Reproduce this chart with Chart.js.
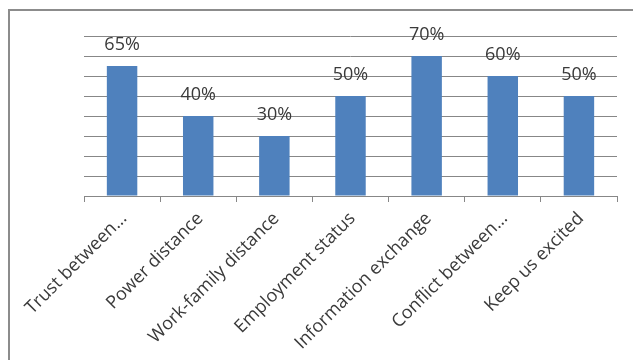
<!DOCTYPE html>
<html>
<head>
<meta charset="utf-8">
<script src="https://cdn.jsdelivr.net/npm/chart.js@4.4.1/dist/chart.umd.min.js"></script>
<style>
  html, body { margin: 0; padding: 0; background: #fff; }
  #wrap { position: relative; width: 633px; height: 360px; overflow: hidden; }
  #frame { position: absolute; left: 8px; top: 9px; width: 700px; height: 400px;
           border: 2px solid #8c8c8c; box-sizing: border-box; }
  canvas { position: absolute; left: 0; top: 0; }
</style>
</head>
<body>
<div id="wrap">
  <div id="frame"></div>
  <canvas id="barChart" width="633" height="360"></canvas>
</div>
<script>
// categories and values
const categories = [
  "Trust between...",
  "Power distance",
  "Work-family distance",
  "Employment status",
  "Information exchange",
  "Conflict between...",
  "Keep us excited",
];
const percentages = [65, 40, 30, 50, 70, 60, 50];

// value labels above each bar
const valueLabels = {
  id: "valueLabels",
  afterDatasetsDraw(chart) {
    const ctx = chart.ctx;
    const meta = chart.getDatasetMeta(0);
    ctx.save();
    ctx.font = "18px 'Open Sans'";
    ctx.fillStyle = "#3a3a3a";
    ctx.textAlign = "center";
    ctx.textBaseline = "middle";
    meta.data.forEach((bar, i) => {
      ctx.fillText(percentages[i] + "%", bar.x, bar.y - 21);
    });
    ctx.restore();
  },
};

const ctx = document.getElementById("barChart").getContext("2d");
const chart = new Chart(ctx, {
  type: "bar",
  data: {
    labels: categories,
    datasets: [
      {
        data: percentages,
        backgroundColor: "#4f81bd",
        categoryPercentage: 1,
        barPercentage: 0.4,
      },
    ],
  },
  options: {
    responsive: false,
    animation: false,
    layout: { padding: { left: 84, top: 36, right: 16, bottom: 0 } },
    plugins: {
      legend: { display: false },
      tooltip: { enabled: false },
    },
    scales: {
      x: {
        afterFit(axis) { axis.height = 164; },
        grid: {
          offset: true,
          drawOnChartArea: false,
          drawTicks: true,
          tickLength: 6,
          color: "#878787",
        },
        border: { color: "#878787" },
        ticks: {
          minRotation: 45,
          maxRotation: 45,
          autoSkip: false,
          labelOffset: 2,
          padding: 6,
          color: "#3a3a3a",
          font: { family: "Open Sans", size: 18 },
        },
      },
      y: {
        min: 0,
        max: 80,
        afterFit(axis) { axis.width = 0; },
        ticks: { stepSize: 10, display: false },
        grid: { color: "#878787", drawTicks: false },
        border: { display: false },
      },
    },
  },
  plugins: [valueLabels],
});
</script>
</body>
</html>
